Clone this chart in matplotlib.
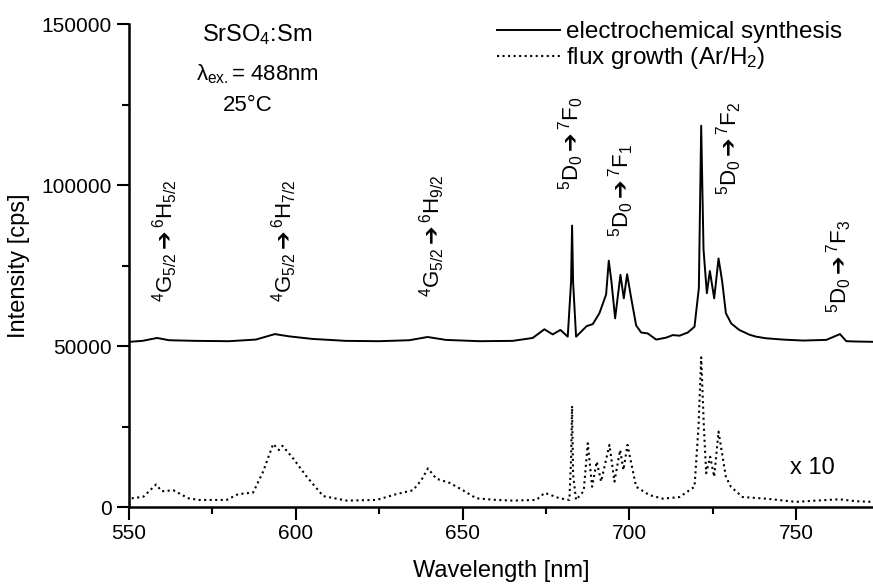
import matplotlib
matplotlib.use("Agg")
import matplotlib.pyplot as plt
from matplotlib.ticker import MultipleLocator

plt.rcParams['font.family'] = ['Liberation Sans', 'DejaVu Sans']
plt.rcParams['mathtext.fontset'] = 'custom'
plt.rcParams['mathtext.rm'] = 'Liberation Sans'
plt.rcParams['mathtext.it'] = 'Liberation Sans:italic'
plt.rcParams['mathtext.bf'] = 'Liberation Sans:bold'
plt.rcParams['mathtext.sf'] = 'DejaVu Sans:bold'

# ----- data -----
# electrochemical synthesis (solid)
ec_wl = [550.0, 554.0, 558.4, 562.0, 570.0, 580.0, 588.0, 593.7, 598.0, 605.0,
         615.0, 625.0, 634.0, 639.5, 645.0, 655.0, 665.0, 671.0, 674.5, 677.0,
         679.3, 681.5, 682.5, 682.8, 683.1, 684.0, 687.2, 689.0, 691.0, 693.0,
         693.8, 694.6, 695.7, 697.3, 698.3, 699.3, 700.5, 702.0, 703.5, 705.5,
         708.0, 711.0, 713.0, 715.0, 717.5, 719.5, 720.8, 721.5, 722.2, 723.2,
         724.1, 725.4, 726.7, 727.8, 728.9, 730.5, 732.9, 736.0, 738.0, 741.0,
         746.0, 752.0, 759.0, 763.1, 765.0, 768.0, 773.0]
ec_int = [51300, 51600, 52500, 51800, 51600, 51500, 52000, 53700, 53000, 52200,
          51600, 51500, 51800, 52800, 51900, 51500, 51600, 52500, 55200, 53600,
          55000, 52900, 70000, 87400, 70000, 52900, 56200, 56800, 60200, 66000,
          76500, 70000, 58600, 72100, 64800, 72300, 65000, 56400, 54200, 53900,
          52000, 52600, 53400, 53200, 54200, 56000, 68000, 118400, 80000, 66400,
          73300, 64800, 77200, 70000, 60200, 57000, 55000, 53500, 52900, 52400,
          52000, 51700, 51900, 53700, 51500, 51400, 51300]

# flux growth (Ar/H2), x10 (dotted)
fg_wl = [550.8, 554.3, 558.1, 559.8, 563.3, 567.8, 571.0, 579.2, 582.7, 587.2,
         590.2, 593.2, 594.9, 596.0, 599.2, 603.2, 608.2, 615.2, 624.2, 630.1,
         635.1, 637.6, 639.6, 642.1, 646.1, 650.1, 654.1, 660.1, 665.0, 672.1,
         674.6, 679.1, 682.0, 682.5, 682.8, 683.1, 684.0, 686.3, 687.5, 688.8,
         690.2, 691.5, 694.0, 695.5, 697.2, 698.2, 699.4, 702.0, 706.0, 710.0,
         715.0, 719.5, 720.7, 721.5, 722.3, 723.0, 724.2, 725.4, 726.7, 728.9,
         730.4, 733.9, 740.9, 749.9, 756.0, 762.9, 768.0, 773.0]
fg_int = [2700, 3200, 7000, 4900, 5200, 2700, 2200, 2200, 4000, 4500,
          11000, 19600, 17700, 19000, 15100, 9500, 3400, 2000, 2200, 4000,
          5200, 8300, 12000, 8800, 7500, 5200, 2700, 2200, 2000, 2200,
          4400, 2700, 2200, 15000, 31400, 10000, 2200, 5000, 19800, 6300,
          14100, 7900, 19300, 7900, 17700, 11500, 19300, 6300, 3700, 2600,
          3100, 6300, 25000, 46500, 25000, 10500, 15600, 9400, 23400, 9400,
          6300, 3100, 2600, 1600, 2000, 2400, 1800, 1600]

# transition labels: (text, wavelength, bottom of label)
arrow = r'\,\mathsf{' + '\u2794' + r'}\,'
trans_text = [r'$^{4}$G$_{5/2}' + arrow + r'^{6}$H$_{5/2}$',
              r'$^{4}$G$_{5/2}' + arrow + r'^{6}$H$_{7/2}$',
              r'$^{4}$G$_{5/2}' + arrow + r'^{6}$H$_{9/2}$',
              r'$^{5}$D$_{0}' + arrow + r'^{7}$F$_{0}$',
              r'$^{5}$D$_{0}' + arrow + r'^{7}$F$_{1}$',
              r'$^{5}$D$_{0}' + arrow + r'^{7}$F$_{2}$',
              r'$^{5}$D$_{0}' + arrow + r'^{7}$F$_{3}$']
trans_wl = [560.8, 596.4, 641.0, 682.6, 697.6, 730.0, 762.9]
trans_y = [63700, 63700, 65200, 98500, 83900, 96900, 60300]

fig = plt.figure(figsize=(8.73, 5.84), dpi=100)
ax = fig.add_axes([0.1478, 0.1318, 0.8522, 0.8271])

ax.plot(ec_wl, ec_int, color='black', lw=1.4, label='electrochemical synthesis')
ax.plot(fg_wl, fg_int, color='black', lw=1.5, ls=':', label='flux growth (Ar/H$_2$)')

ax.set_xlim(550, 773)
ax.set_ylim(0, 150000)
ax.xaxis.set_major_locator(MultipleLocator(50))
ax.xaxis.set_minor_locator(MultipleLocator(25))
ax.yaxis.set_major_locator(MultipleLocator(50000))
ax.yaxis.set_minor_locator(MultipleLocator(25000))
ax.tick_params(which='major', direction='out', length=9, width=1.5, labelsize=15)
ax.tick_params(which='minor', direction='out', length=5, width=1.5)
for s in ['top', 'right']:
    ax.spines[s].set_visible(False)
for s in ['left', 'bottom']:
    ax.spines[s].set_linewidth(1.8)

ax.set_xlabel('Wavelength [nm]', fontsize=17, labelpad=12)
ax.set_ylabel('Intensity [cps]', fontsize=17, labelpad=8)

for t, w, y in zip(trans_text, trans_wl, trans_y):
    ax.text(w, y, t, rotation=90, ha='center', va='bottom', fontsize=16)

fig.text(257 / 873, 1 - 35 / 584, r'SrSO$_4$:Sm', fontsize=17, ha='center', va='center')
fig.text(257 / 873, 1 - 74 / 584, r'λ$_{\mathrm{ex.}}$= 488nm', fontsize=16,
         ha='center', va='center')
fig.text(248 / 873, 1 - 106 / 584, '25°C', fontsize=16, ha='center', va='center')
fig.text(812 / 873, 1 - 468 / 584, 'x 10', fontsize=17, ha='center', va='center')

ax.legend(loc='upper right', bbox_to_anchor=(842 / 873, 1 - 21 / 584),
          bbox_transform=fig.transFigure, frameon=False, fontsize=17.5,
          handlelength=2.6, handletextpad=0.25, labelspacing=0.1, borderaxespad=0,
          borderpad=0)

fig.savefig('out.png', dpi=100)
